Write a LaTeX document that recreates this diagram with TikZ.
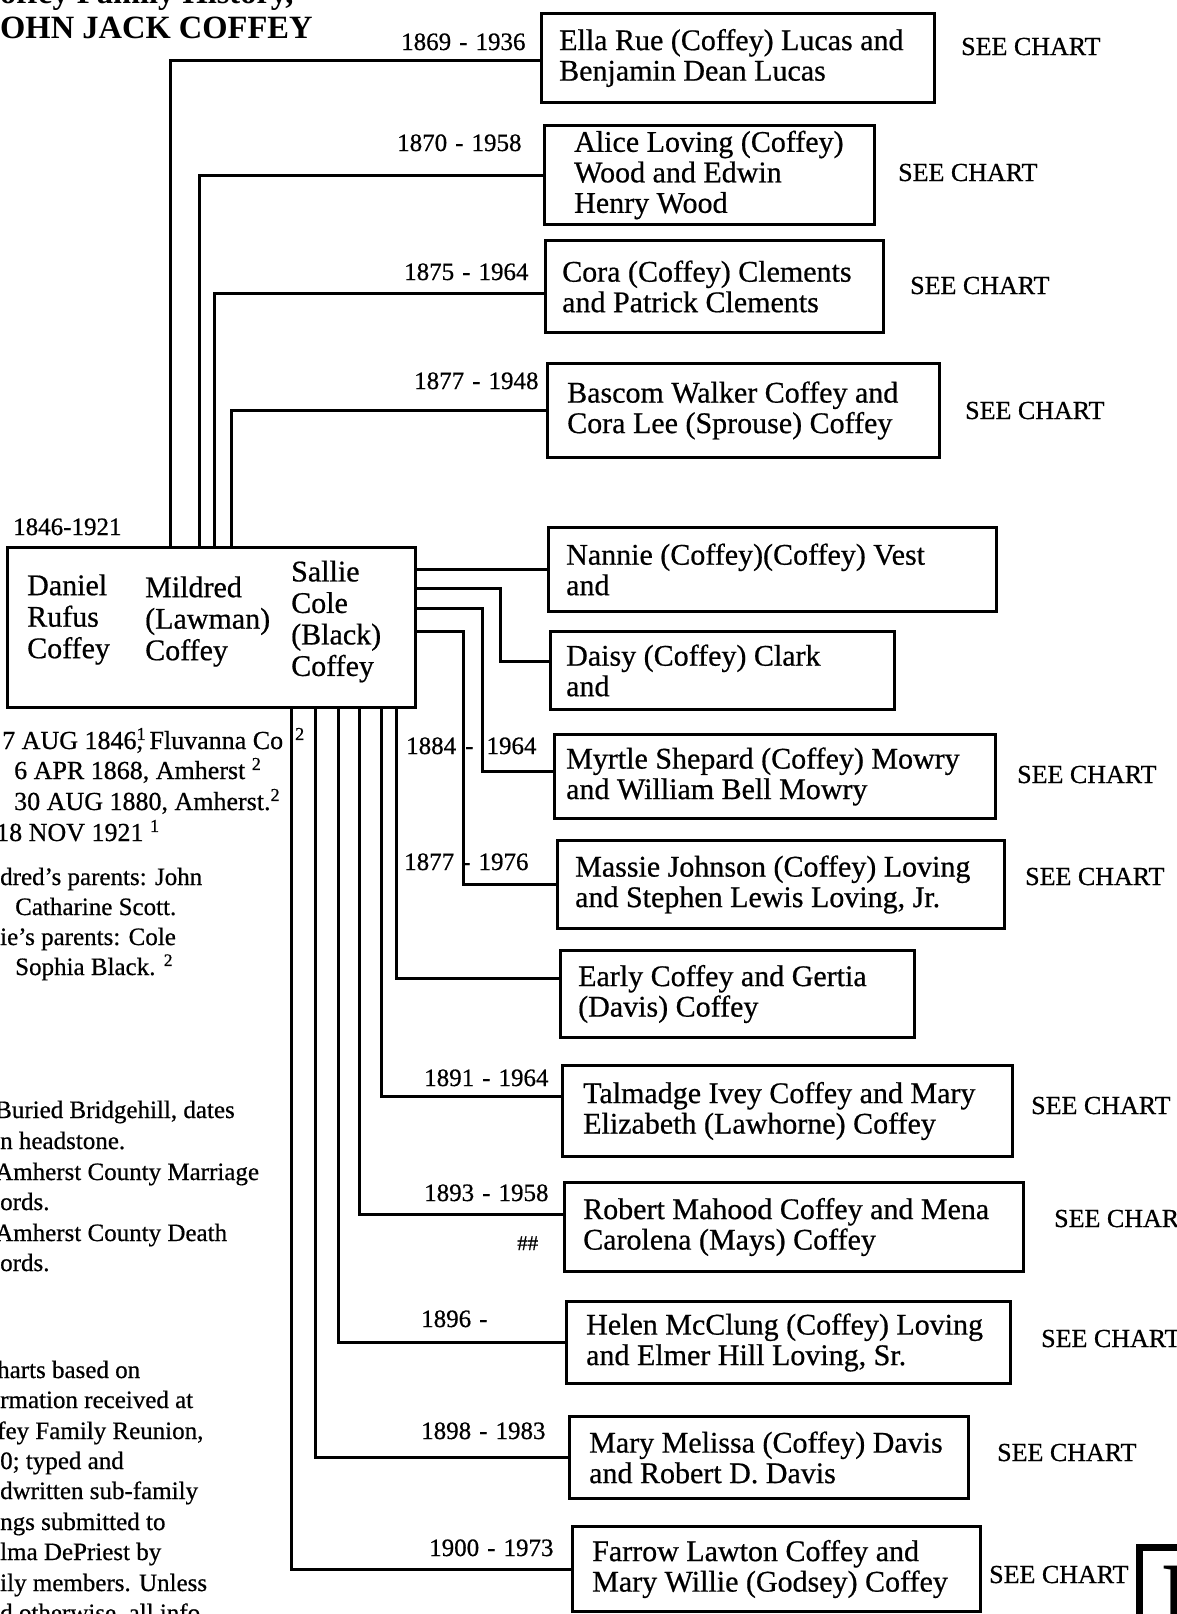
\documentclass[tikz,border=0pt]{standalone}
\usepackage{fontspec}
\setmainfont{Liberation Serif}[UprightFeatures={FakeBold=0.6}]
\usetikzlibrary{positioning}

\newcommand{\cardfont}{\fontsize{30}{30.5}\selectfont}
\newcommand{\yearfont}{\fontsize{25}{27}\selectfont}
\newcommand{\notefont}{\fontsize{25}{30}\selectfont}
\newcommand{\headfont}{\fontsize{32.5}{33}\selectfont\bfseries}
\newcommand{\lifedates}[2]{#1\hspace{8pt}-\hspace{8pt}#2}

\begin{document}
\begin{tikzpicture}[x=1pt, y=-1pt, every node/.style={inner sep=0pt},
    card/.style={draw, line width=3pt, anchor=north west},
    cardtext/.style={anchor=west, align=left, font=\cardfont},
    link/.style={line width=3pt},
    years/.style={anchor=base west, font=\yearfont},
    seechart/.style={anchor=base west, font=\fontsize{26}{28}\selectfont},
    note/.style={anchor=base west, font=\notefont}]
    \useasboundingbox (0,0) rectangle (1177,1614);

    \node[anchor=base west, font=\headfont] (head1) at (0,4) {offey Family History,};
    \node[anchor=base west, font=\headfont] (head2) at (0,38) {OHN JACK COFFEY};

    \node[card, minimum width=408pt, minimum height=160pt] (parent) at (6,546) {};
    \node[cardtext, font=\fontsize{30}{31.5}\selectfont] (daniel) at ([xshift=21pt, yshift=8pt]parent.west) {Daniel\\Rufus\\Coffey};
    \node[cardtext, font=\fontsize{30}{31.5}\selectfont] (mildred) at ([xshift=139pt, yshift=6pt]parent.west) {Mildred\\(Lawman)\\Coffey};
    \node[cardtext, font=\fontsize{30}{31.5}\selectfont] (sallie) at ([xshift=285pt, yshift=6pt]parent.west) {Sallie\\Cole\\(Black)\\Coffey};
    \node[years] (lifespan) at (13,535) {1846-1921};

    \foreach \nm/\bx/\by/\bw/\bh/\pd/\txt in {
        ella/540/12/393/89/19/{Ella Rue (Coffey) Lucas and\\Benjamin Dean Lucas},
        alice/543/124/330/99/31/{Alice Loving (Coffey)\\Wood and Edwin\\Henry Wood},
        cora/544/239/338/92/18/{Cora (Coffey) Clements\\and Patrick Clements},
        bascom/546/362/392/94/21/{Bascom Walker Coffey and\\Cora Lee (Sprouse) Coffey},
        nannie/547/526/448/84/19/{Nannie (Coffey)(Coffey) Vest\\and},
        daisy/549/630/344/78/17/{Daisy (Coffey) Clark\\and},
        myrtle/553/733/441/84/13/{Myrtle Shepard (Coffey) Mowry\\and William Bell Mowry},
        massie/556/839/447/88/19/{Massie Johnson (Coffey) Loving\\and Stephen Lewis Loving, Jr.},
        early/559/949/354/87/19/{Early Coffey and Gertia\\(Davis) Coffey},
        talmadge/561/1064/450/91/22/{Talmadge Ivey Coffey and Mary\\Elizabeth (Lawhorne) Coffey},
        robert/563/1181/459/89/20/{Robert Mahood Coffey and Mena\\Carolena (Mays) Coffey},
        helen/565/1300/444/82/21/{Helen McClung (Coffey) Loving\\and Elmer Hill Loving, Sr.},
        mary/568/1415/399/82/21/{Mary Melissa (Coffey) Davis\\and Robert D. Davis},
        farrow/571/1525/408/85/21/{Farrow Lawton Coffey and\\Mary Willie (Godsey) Coffey}} {
        \node[card, minimum width=\bw*1pt, minimum height=\bh*1pt] (\nm) at (\bx,\by) {};
        \node[cardtext] (\nm-txt) at ([xshift=\pd*1pt]\nm.west) {\txt};
    }

    \foreach \nm/\dx/\dy in {ella/164/-2, alice/193/0, cora/208/-7, bascom/225/0}
        \draw[link] ([xshift=\dx*1pt]parent.north west) |- ([yshift=\dy*1pt]\nm.west);
    \foreach \nm/\dx/\dy in {early/390/16, talmadge/375/15, robert/353/13, helen/332/0, mary/309/0, farrow/285/0}
        \draw[link] ([xshift=\dx*1pt]parent.south west) |- ([yshift=\dy*1pt]\nm.west);
    \draw[link] (parent.east |- nannie.west) -- (nannie.west);
    \draw[link] ([yshift=-42pt]parent.north east) -- ++(83,0) |- ([yshift=9pt]daisy.west);
    \draw[link] ([yshift=-62pt]parent.north east) -- ++(65,0) |- ([yshift=5pt]myrtle.west);
    \draw[link] ([yshift=-85pt]parent.north east) -- ++(46,0) |- (massie.west);

    \node[years] (y-ella) at (401,50) {\lifedates{1869}{1936}};
    \node[years] (y-alice) at (397,151) {\lifedates{1870}{1958}};
    \node[years] (y-cora) at (404,280) {\lifedates{1875}{1964}};
    \node[years] (y-bascom) at (414,389) {\lifedates{1877}{1948}};
    \node[years] (y-myrtle) at (406,754) {1884\hspace{9pt}-\hspace{13pt}1964};
    \node[years] (y-massie) at (404,870) {\lifedates{1877}{1976}};
    \node[years] (y-talmadge) at (424,1086) {\lifedates{1891}{1964}};
    \node[years] (y-robert) at (424,1201) {\lifedates{1893}{1958}};
    \node[years, font=\fontsize{21}{22}\selectfont] (hash) at (517,1250) {\#\#};
    \node[years] (y-helen) at (421,1327) {1896\hspace{8pt}-};
    \node[years] (y-mary) at (421,1439) {\lifedates{1898}{1983}};
    \node[years] (y-farrow) at (429,1556) {\lifedates{1900}{1973}};

    \foreach \nm/\sx/\sy in {ella/961/55, alice/898/181, cora/910/294, bascom/965/419,
        myrtle/1017/783, massie/1025/885, talmadge/1031/1114, robert/1054/1227,
        helen/1041/1347, mary/997/1461, farrow/989/1583}
        \node[seechart] (see-\nm) at (\sx,\sy) {SEE CHART};

    \draw[line width=7pt] (1139,1547) rectangle (1240,1680);
    \node[anchor=north west, font=\fontsize{80}{80}\selectfont\bfseries] (tab) at (1161,1566) {I};

    \node[note, font=\fontsize{26}{28}\selectfont] (born) at (2,749) {7 AUG 1846\rlap{\textsuperscript{1}}, Fluvanna Co\kern12pt\textsuperscript{2}};
    \node[note, font=\fontsize{26}{28}\selectfont] (wed1) at (14,779) {6 APR 1868, Amherst \textsuperscript{2}};
    \node[note, font=\fontsize{26}{28}\selectfont] (wed2) at (14,810) {30 AUG 1880, Amherst.\textsuperscript{2}};
    \node[note, font=\fontsize{26}{28}\selectfont] (died) at (-4,841) {18 NOV 1921 \textsuperscript{1}};
    \node[note] (n1) at (0,885) {dred's parents: John};
    \node[note] (n2) at (15,915) {Catharine Scott.};
    \node[note] (n3) at (0,945) {ie's parents: Cole};
    \node[note] (n4) at (15,975) {Sophia Black. \textsuperscript{2}};

    \node[note] (s1) at (-5,1118) {Buried Bridgehill, dates};
    \node[note] (s2) at (0,1149) {n headstone.};
    \node[note] (s3) at (-5,1180) {Amherst County Marriage};
    \node[note] (s4) at (0,1210) {ords.};
    \node[note] (s5) at (-5,1241) {Amherst County Death};
    \node[note] (s6) at (0,1271) {ords.};

    \node[note] (c1) at (-3,1378) {harts based on};
    \node[note] (c2) at (0,1408) {rmation received at};
    \node[note] (c3) at (-3,1439) {fey Family Reunion,};
    \node[note] (c4) at (0,1469) {0; typed and};
    \node[note] (c5) at (0,1499) {dwritten sub-family};
    \node[note] (c6) at (0,1530) {ngs submitted to};
    \node[note] (c7) at (0,1560) {lma DePriest by};
    \node[note] (c8) at (0,1591) {ily members. Unless};
    \node[note] (c9) at (0,1621) {d otherwise, all info};
\end{tikzpicture}
\end{document}
